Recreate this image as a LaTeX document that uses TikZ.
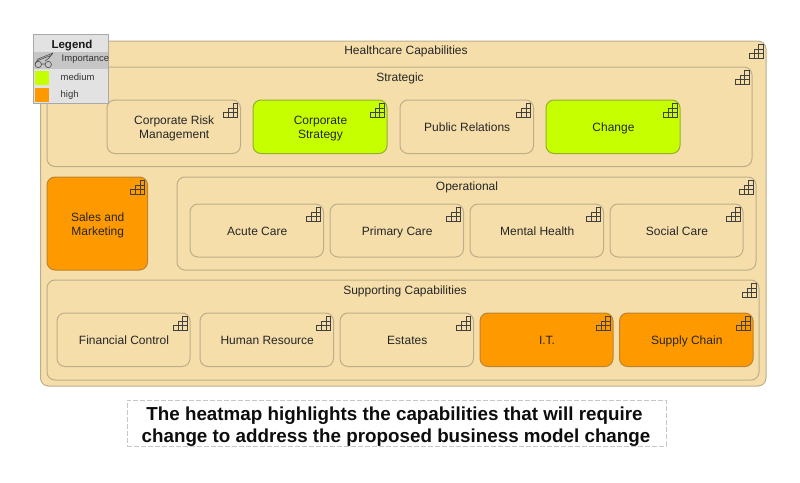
\documentclass[tikz,border=0pt]{standalone}
\usepackage{fontspec}
\setmainfont{Liberation Sans}
\definecolor{capfill}{HTML}{F5DEAA}
\definecolor{capline}{HTML}{BDAD8A}
\definecolor{medfill}{HTML}{C6FF00}
\definecolor{highfill}{HTML}{FF9900}
\definecolor{medline}{HTML}{96AE30}
\definecolor{highline}{HTML}{BC8430}
\definecolor{legfill}{HTML}{E2E2E2}
\definecolor{legline}{HTML}{A8A8A8}
\definecolor{legband}{HTML}{C6C6C6}
\tikzset{
  capbase/.style={draw=capline,line width=1pt,rounded corners=8pt,fill=capfill,inner sep=0pt,align=center,
    font=\fontsize{12}{14}\selectfont,text=black!85},
  medcap/.style={capbase,fill=medfill,draw=medline},
  highcap/.style={capbase,fill=highfill,draw=highline},
  captitle/.style={font=\fontsize{12}{14}\selectfont,text=black!85,inner sep=0pt},
  stair/.style={draw=black!75,line width=.6pt},
  legtext/.style={font=\fontsize{9.5}{11}\selectfont,text=black!80,inner sep=0pt,anchor=west},
}
% \cbox[style]{name}{x1}{y1}{x2}{y2}{text}
\newcommand{\cbox}[7][capbase]{%
  \pgfmathsetmacro{\cx}{(#3+#5)/2}\pgfmathsetmacro{\cy}{(#4+#6)/2}%
  \pgfmathsetmacro{\cw}{#5-#3}\pgfmathsetmacro{\ch}{#6-#4}%
  \node[#1,minimum width=\cw pt,minimum height=\ch pt] (#2) at (\cx,\cy) {};%
  \node[#1,draw=none,fill=none,rounded corners=0pt] (#2text) at (\cx+.5,\cy+1.9) {\strut#7\strut};%
  \stairicon{#5}{#4}}
\newcommand{\stairicon}[2]{%
  \begin{scope}[shift={(#1-3,#2+3.5)}]
    \draw[stair] (-13.8,13.5)--(-13.8,9)--(-9.2,9)--(-9.2,4.5)--(-4.6,4.5)--(-4.6,0)--(0,0)--(0,13.5)--cycle;
    \draw[stair] (-13.8,9)--(0,9) (-9.2,4.5)--(0,4.5) (-9.2,9)--(-9.2,13.5) (-4.6,4.5)--(-4.6,13.5);
  \end{scope}}
\begin{document}
\begin{tikzpicture}[x=1pt,y=-1pt]
\useasboundingbox (0,0) rectangle (800,482);
\cbox{outer}{40.5}{41}{766}{386}{}
\node[captitle] (outertitle) at (406,51.5) {\strut Healthcare Capabilities};
\cbox{strategic}{47}{67}{752}{166.5}{}
\node[captitle] (strategictitle) at (400,78.5) {\strut Strategic};
\cbox{risk}{107}{100}{240.5}{153.5}{Corporate Risk\\Management}
\cbox[medcap]{corpstrat}{253}{100}{387}{153.5}{Corporate\\Strategy}
\cbox{pr}{400}{100}{533.5}{153.5}{Public Relations}
\cbox[medcap]{change}{546}{100}{680}{153.5}{Change}
\cbox[highcap]{sales}{47}{177}{147.5}{270}{Sales and\\Marketing}
\cbox{operational}{177}{177}{756}{270}{}
\node[captitle] (optitle) at (467,187.5) {\strut Operational};
\cbox{acute}{190}{204}{323.5}{257}{Acute Care}
\cbox{primary}{330}{204}{463.5}{257}{Primary Care}
\cbox{mental}{470}{204}{603.5}{257}{Mental Health}
\cbox{social}{610}{204}{743}{257}{Social Care}
\cbox{supporting}{47}{280}{759}{380}{}
\node[captitle] (suptitle) at (405,291.5) {\strut Supporting Capabilities};
\cbox{financial}{57}{313}{190}{366.5}{Financial Control}
\cbox{hr}{200}{313}{333.5}{366.5}{Human Resource}
\cbox{estates}{340}{313}{473.5}{366.5}{Estates}
\cbox[highcap]{it}{480}{313}{613}{366.5}{I.T.}
\cbox[highcap]{supply}{619.5}{313}{753}{366.5}{Supply Chain}
% legend
\node[draw=legline,fill=legfill,line width=1pt,minimum width=75pt,minimum height=69pt,inner sep=0pt] (legend) at (71,68.5) {};
\fill[legband] (34,51.5) rectangle (108,69);
\node[font=\bfseries\fontsize{11.5}{13}\selectfont,text=black!90,inner sep=0pt] (legtitle) at (72,46) {\strut Legend};
\draw[black!70,line width=.6pt] (38.3,64.5) circle (3.2) (48.3,64.5) circle (3.2) (41.5,64)--(45,64);
\draw[black!70,line width=.6pt] (35,64)--(38,59)--(53,53) (38,60.5)--(52,55) (45,61)--(49,58)--(53,53);
\node[legtext] (imp) at (61.5,59) {\strut Importance};
\node[fill=medfill,minimum width=14pt,minimum height=14pt,inner sep=0pt] (medswatch) at (42,78) {};
\node[legtext] (med) at (60.5,78.5) {\strut medium};
\node[fill=highfill,minimum width=14pt,minimum height=14pt,inner sep=0pt] (highswatch) at (42,95) {};
\node[legtext] (high) at (60.5,95.5) {\strut high};
% caption
\node[draw=black!22,dash pattern=on 5pt off 2pt,line width=1pt,minimum width=539pt,minimum height=46pt,inner sep=0pt] (caption) at (396.5,423) {};
\node[inner sep=0pt,align=center,font=\bfseries\fontsize{18.8}{22.3}\selectfont,text=black!95] (captiontext) at (396,427) {\strut\hspace*{-3pt}The heatmap highlights the capabilities that will require\\change to address the proposed business model change\strut};
\end{tikzpicture}
\end{document}
